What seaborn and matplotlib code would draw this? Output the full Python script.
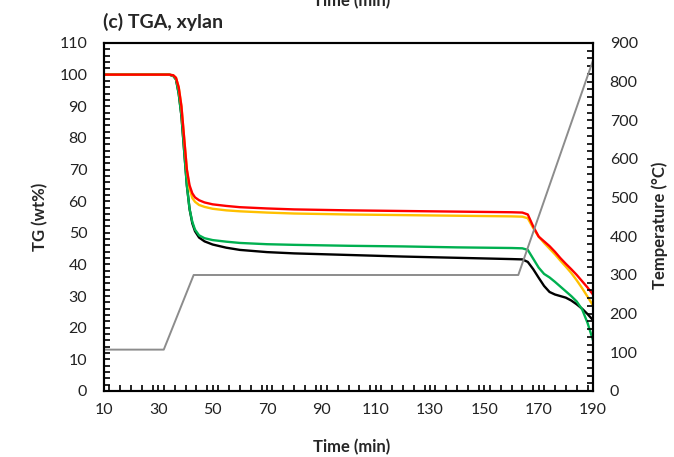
import numpy as np
import pandas as pd
import matplotlib
matplotlib.use("Agg")
import matplotlib.pyplot as plt
import seaborn as sns
from matplotlib.ticker import MultipleLocator

# ---------------- data ----------------
time = [10, 30, 34, 35.5, 36.5, 37.5, 38.5, 39.5, 40.5, 41.5, 42.5, 43.5, 45, 47,
        50, 55, 60, 70, 80, 100, 120, 140, 160, 164, 166, 168, 170, 172, 174,
        176, 178, 180, 182, 184, 186, 188, 190]

tg_black = [100, 100, 100, 99.6, 98.5, 94, 87, 76, 65, 57.5, 53, 50.5, 48.5, 47.3,
            46.3, 45.3, 44.6, 43.9, 43.5, 43.0, 42.5, 42.1, 41.7, 41.6, 40.8, 38.5,
            35.8, 33.2, 31.3, 30.5, 30.0, 29.5, 28.6, 27.4, 26.0, 24.3, 22.4]
tg_green = [100, 100, 100, 99.6, 98.5, 94, 87, 76, 65, 57.5, 53.5, 51, 49.2, 48.3,
            47.7, 47.2, 46.8, 46.4, 46.2, 45.9, 45.7, 45.4, 45.2, 45.1, 44.6, 41.8,
            39.0, 37.0, 35.9, 34.5, 33.0, 31.5, 30.0, 28.3, 25.8, 21.5, 16.0]
tg_orange = [100, 100, 100, 99.8, 99, 96, 90, 80, 70, 64, 61, 59.8, 58.8, 58.2,
             57.6, 57.1, 56.8, 56.4, 56.1, 55.8, 55.6, 55.4, 55.2, 55.1, 54.6, 51.5,
             48.8, 46.8, 45.0, 43.2, 41.2, 39.3, 37.3, 35.0, 32.5, 29.8, 27.0]
tg_red = [100, 100, 100, 99.8, 99, 96, 90, 80, 70, 65, 62.5, 61.2, 60.3, 59.6,
          59.0, 58.5, 58.1, 57.7, 57.4, 57.1, 56.9, 56.7, 56.5, 56.4, 55.8, 52.0,
          48.8, 47.3, 45.8, 44.0, 42.0, 40.2, 38.5, 36.7, 34.7, 32.7, 30.5]

temp_time = [10, 32, 43, 162.5, 190]
temperature = [107, 107, 300, 300, 855]

x_ticks = [10, 30, 50, 70, 90, 110, 130, 150, 170, 190]
tg_ticks = list(range(0, 111, 10))
temp_ticks = list(range(0, 901, 100))

series = {"black": tg_black, "green": tg_green, "orange": tg_orange, "red": tg_red}
colors = {"black": "#000000", "green": "#00B050", "orange": "#FFC000", "red": "#FF0000"}

# ---------------- style ----------------
sns.set_style("white")
plt.rcParams["font.family"] = ["Lato", "DejaVu Sans"]

fig = plt.figure(figsize=(6.74, 4.57), dpi=100)
ax = fig.add_axes([104/674, 1-391/457, (593-104)/674, (391-43)/457])
ax2 = ax.twinx()

df = pd.DataFrame({"time": time, **series})
long = df.melt(id_vars="time", var_name="sample", value_name="tg")
sns.lineplot(data=long, x="time", y="tg", hue="sample",
             palette=colors, hue_order=["black", "green", "orange", "red"],
             ax=ax, linewidth=1.7, legend=False, sort=False)

tdf = pd.DataFrame({"time": temp_time, "temp": temperature})
sns.lineplot(data=tdf, x="time", y="temp", ax=ax2, color="#8C8C8C",
             linewidth=1.4, legend=False, sort=False)

ax.set_xlim(10, 190)
ax.set_ylim(0, 110)
ax2.set_ylim(0, 900)
ax.set_xticks(x_ticks)
ax.set_yticks(tg_ticks)
ax2.set_yticks(temp_ticks)
ax.xaxis.set_minor_locator(MultipleLocator(4))
ax.yaxis.set_minor_locator(MultipleLocator(2))
ax2.yaxis.set_minor_locator(MultipleLocator(20))

for a in (ax, ax2):
    for s in a.spines.values():
        s.set_color("black")
        s.set_linewidth(1.5)
        s.set_visible(True)

ax.tick_params(axis="x", which="both", direction="in", length=4, width=1.2,
               bottom=True, top=False, labelsize=11.5, pad=9, colors="black")
ax.tick_params(axis="x", which="major", length=4)
ax.tick_params(axis="y", which="both", direction="in", length=4, width=1.2,
               left=True, right=False, labelsize=11.5, pad=12, colors="black")
ax2.tick_params(axis="y", which="both", direction="in", length=4, width=1.2,
                right=True, left=False, labelsize=11.5, pad=12, colors="black")

for lab in ax.get_xticklabels() + ax.get_yticklabels() + ax2.get_yticklabels():
    lab.set_color("#222222")

ax.set_xlabel("")
ax.set_ylabel("")
ax2.set_ylabel("")

fig.text(352/674, 1-447/457, "Time (min)", ha="center", va="center",
         fontsize=12, fontweight="bold")
fig.text(40/674, 1-217/457, "TG (wt%)", ha="center", va="center",
         rotation=90, fontsize=12, fontweight="bold")
fig.text(660/674, 1-225/457, "Temperature (°C)", ha="center", va="center",
         rotation=90, fontsize=12, fontweight="bold")
fig.text(103/674, 1-28/457, "(c) TGA, xylan", ha="left", va="baseline",
         fontsize=14, fontweight="bold")
# clipped axis title from the panel above
fig.text(352/674, 1-9/457, "Time (min)", ha="center", va="bottom",
         fontsize=12, fontweight="bold")

fig.savefig("out.png", dpi=100)
